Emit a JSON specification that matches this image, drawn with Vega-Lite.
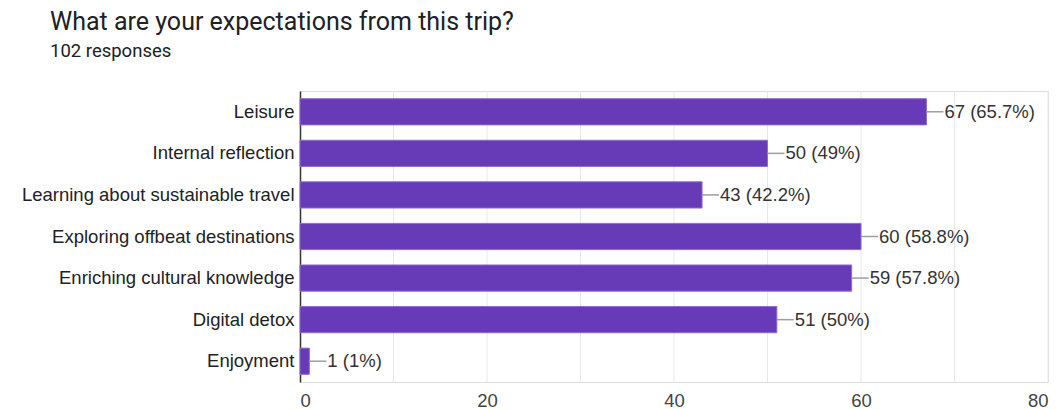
{
  "$schema": "https://vega.github.io/schema/vega-lite/v6.json",
  "autosize": {"type": "none"},
  "width": 748,
  "height": 291,
  "padding": {"left": 300, "top": 91, "right": 13, "bottom": 27},
  "background": "white",
  "title": {
    "text": "What are your expectations from this trip?",
    "subtitle": "102 responses",
    "anchor": "start",
    "frame": "group",
    "dx": -250,
    "offset": 30,
    "font": "Roboto",
    "fontSize": 25,
    "fontWeight": "normal",
    "color": "#202124",
    "subtitleFont": "Roboto",
    "subtitleFontSize": 18.5,
    "subtitleColor": "#202124",
    "subtitlePadding": 7
  },
  "data": {
    "values": [
      {"option": "Leisure", "count": 67, "label": "67 (65.7%)"},
      {"option": "Internal reflection", "count": 50, "label": "50 (49%)"},
      {"option": "Learning about sustainable travel", "count": 43, "label": "43 (42.2%)"},
      {"option": "Exploring offbeat destinations", "count": 60, "label": "60 (58.8%)"},
      {"option": "Enriching cultural knowledge", "count": 59, "label": "59 (57.8%)"},
      {"option": "Digital detox", "count": 51, "label": "51 (50%)"},
      {"option": "Enjoyment", "count": 1, "label": "1 (1%)"}
    ]
  },
  "encoding": {
    "y": {
      "field": "option",
      "type": "nominal",
      "sort": null,
      "scale": {"paddingInner": 0.37, "paddingOuter": 0.185},
      "axis": {
        "title": null,
        "ticks": false,
        "labelPadding": 6,
        "labelLimit": 400,
        "labelFont": "Liberation Sans",
        "labelFontSize": 18.5,
        "labelColor": "#222222",
        "domainColor": "#333333",
        "domainWidth": 1.5,
        "grid": false
      }
    }
  },
  "layer": [
    {
      "mark": {"type": "rule", "color": "#e8e8e8", "strokeWidth": 1},
      "data": {"values": [{"g": 10}, {"g": 20}, {"g": 30}, {"g": 40}, {"g": 50}, {"g": 60}, {"g": 70}, {"g": 80}]},
      "encoding": {"x": {"field": "g", "type": "quantitative", "scale": {"domain": [0, 80], "nice": false}}, "y": null}
    },
    {
      "mark": {"type": "bar", "color": "#673ab7", "stroke": "#8e6bd0", "strokeWidth": 1},
      "encoding": {
        "x": {
          "field": "count",
          "type": "quantitative",
          "scale": {"domain": [0, 80], "nice": false},
          "axis": {
            "title": null,
            "values": [0, 20, 40, 60, 80],
            "ticks": false,
            "domain": false,
            "grid": false,
            "labelPadding": 9,
            "labelFont": "Liberation Sans",
            "labelFontSize": 18.5,
            "labelColor": "#444444"
          }
        }
      }
    },
    {
      "mark": {"type": "rule", "color": "#9e9e9e", "strokeWidth": 1.5, "x2Offset": 17},
      "encoding": {
        "x": {"field": "count", "type": "quantitative"},
        "x2": {"field": "count"}
      }
    },
    {
      "mark": {"type": "text", "align": "left", "dx": 18, "font": "Liberation Sans", "fontSize": 18.5, "color": "#333333"},
      "encoding": {
        "x": {"field": "count", "type": "quantitative"},
        "text": {"field": "label"}
      }
    }
  ]
}
